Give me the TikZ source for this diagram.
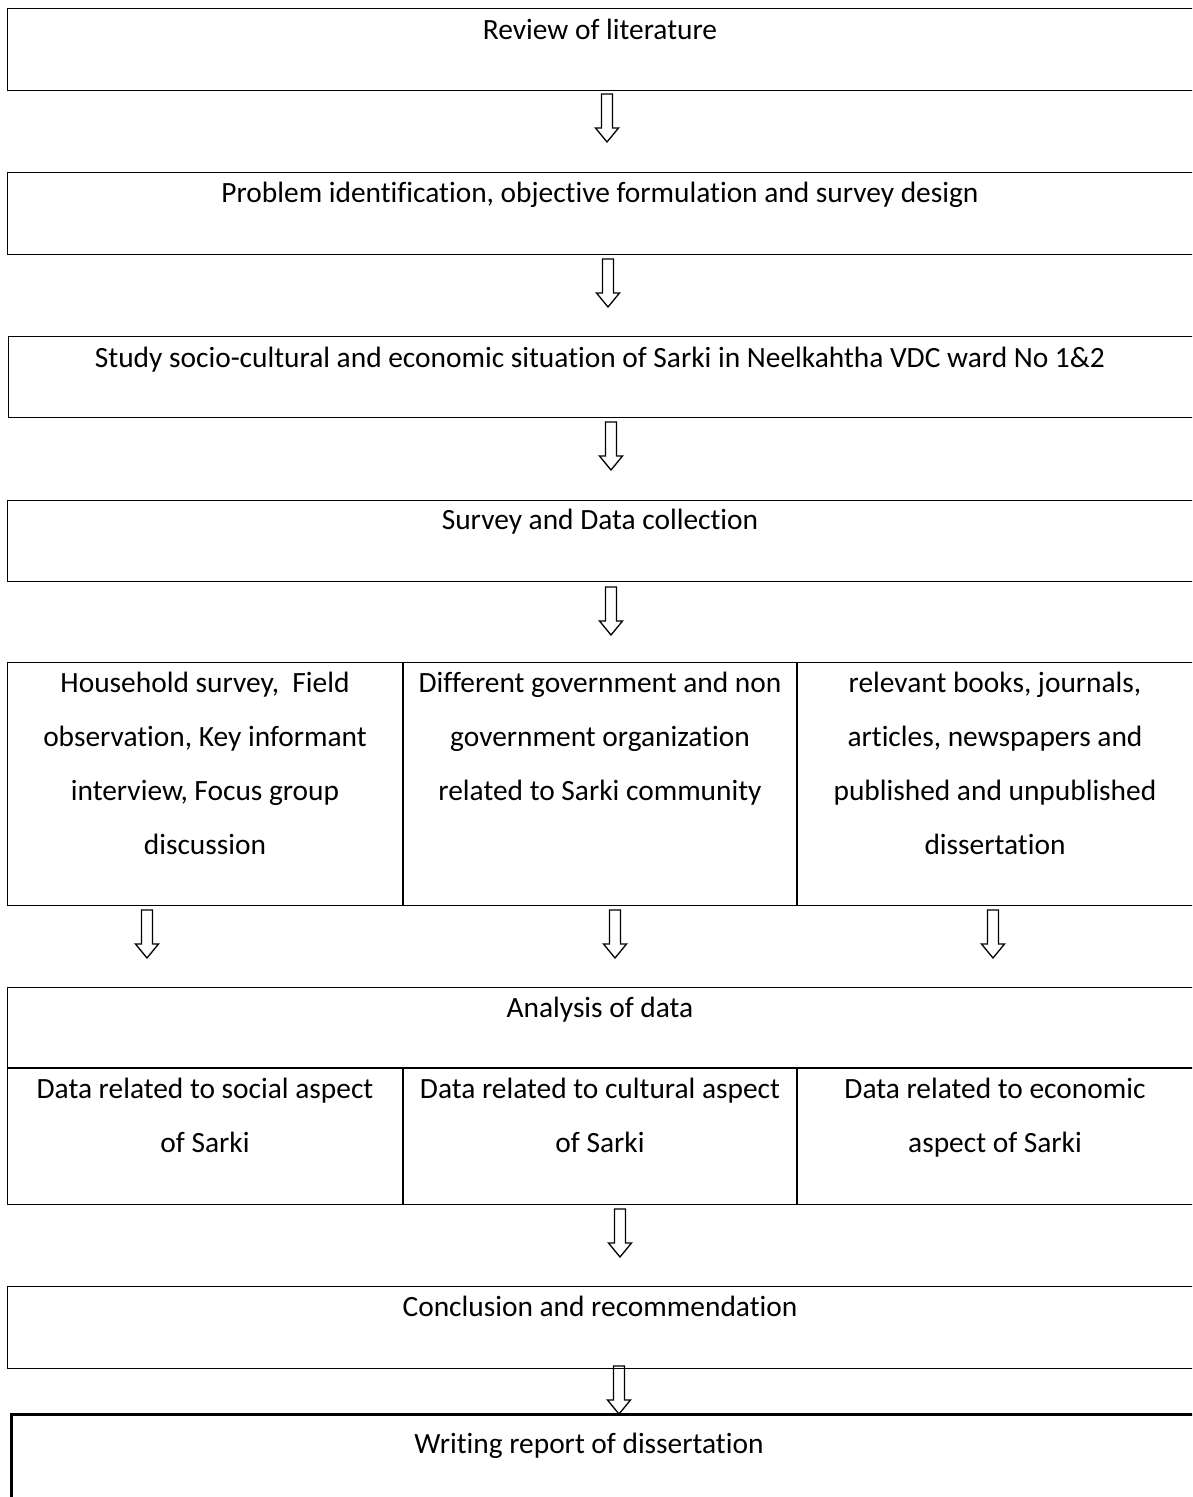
\documentclass[tikz,border=0pt]{standalone}
\usepackage{fontspec}
\setmainfont[Ligatures={NoCommon}]{Carlito}
\begin{document}
\begin{tikzpicture}[x=1pt,y=-1pt,
  box/.style={draw,line width=1.3pt,rectangle,inner sep=0,anchor=north west,minimum width=1220pt},
  txt/.style={anchor=base,inner sep=0,font=\fontsize{29.4}{35}\selectfont},
  blockarrow/.pic={\draw[line width=1.3pt,line join=miter]
     (-5.5,0) -- (5.5,0) -- (5.5,34) -- (11.5,34) -- (0,48) -- (-11.5,34) -- (-5.5,34) -- cycle;}]
\useasboundingbox (0,0) rectangle (1192,1497);
\clip (0,0) rectangle (1192,1497);
% boxes
\node[box,minimum height=82pt] (b1) at (7,8) {};
\node[box,minimum height=82pt] (b2) at (7,172) {};
\node[box,minimum height=81pt] (b3) at (8,336) {};
\node[box,minimum height=81pt] (b4) at (7,500) {};
\node[box,minimum height=243pt] (b5) at (7,662) {};
\node[box,minimum height=217pt] (b6) at (7,987) {};
\node[box,minimum height=82pt] (b7) at (7,1286) {};
\node[box,line width=2.5pt,minimum height=150pt] (b8) at (10,1413) {};
% dividers
\coordinate (d5a) at (403,662); \coordinate (d5b) at (403,905);
\coordinate (d5c) at (797,662); \coordinate (d5d) at (797,905);
\draw[line width=1.3pt] (d5a) -- (d5b) (d5c) -- (d5d);
\coordinate (h6a) at (7,1068); \coordinate (h6b) at (1220,1068);
\coordinate (d6a) at (403,1068); \coordinate (d6b) at (403,1204);
\coordinate (d6c) at (797,1068); \coordinate (d6d) at (797,1204);
\draw[line width=1.3pt] (h6a) -- (h6b) (d6a) -- (d6b) (d6c) -- (d6d);
% texts
\node[txt] (t1) at (600,39) {Review of literature};
\node[txt] (t2) at (600,202) {Problem identification, objective formulation and survey design};
\node[txt] (t3) at (600,367) {Study socio-cultural and economic situation of Sarki in Neelkahtha VDC ward No 1\&2};
\node[txt] (t4) at (600,529) {Survey and Data collection};
\node[txt] (t5a1) at (205,692) {Household survey,\ \ Field};
\node[txt] (t5a2) at (205,746) {observation, Key informant};
\node[txt] (t5a3) at (205,800) {interview, Focus group};
\node[txt] (t5a4) at (205,854) {discussion};
\node[txt] (t5b1) at (600,692) {Different government and non};
\node[txt] (t5b2) at (600,746) {government organization};
\node[txt] (t5b3) at (600,800) {related to Sarki community};
\node[txt] (t5c1) at (995,692) {relevant books, journals,};
\node[txt] (t5c2) at (995,746) {articles, newspapers and};
\node[txt] (t5c3) at (995,800) {published and unpublished};
\node[txt] (t5c4) at (995,854) {dissertation};
\node[txt] (t6) at (600,1017) {Analysis of data};
\node[txt] (t6a1) at (205,1098) {Data related to social aspect};
\node[txt] (t6a2) at (205,1152) {of Sarki};
\node[txt] (t6b1) at (600,1098) {Data related to cultural aspect};
\node[txt] (t6b2) at (600,1152) {of Sarki};
\node[txt] (t6c1) at (995,1098) {Data related to economic};
\node[txt] (t6c2) at (995,1152) {aspect of Sarki};
\node[txt] (t7) at (600,1316) {Conclusion and recommendation};
\node[txt] (t8) at (589,1453) {Writing report of dissertation};
% block arrows
\pic at (607,94) {blockarrow};
\pic at (608,259) {blockarrow};
\pic at (611,422) {blockarrow};
\pic at (611,587) {blockarrow};
\pic at (147,910) {blockarrow};
\pic at (615,910) {blockarrow};
\pic at (993,910) {blockarrow};
\pic at (620,1209) {blockarrow};
\pic at (619,1366) {blockarrow};
\end{tikzpicture}
\end{document}
